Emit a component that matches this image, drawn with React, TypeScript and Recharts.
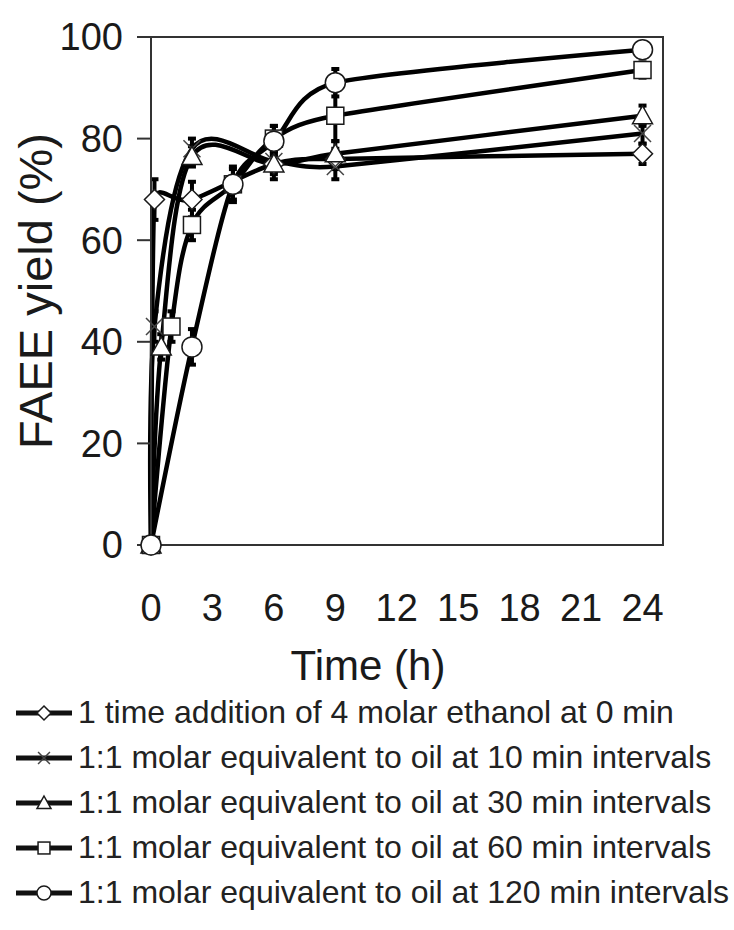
import React from 'react';
import { LineChart, Line, XAxis, YAxis, ErrorBar, ReferenceArea, Legend } from 'recharts';

// ---- data ----
const seriesNames = [
  '1 time addition of 4 molar ethanol at 0 min',
  '1:1 molar equivalent to oil at 10 min intervals',
  '1:1 molar equivalent to oil at 30 min intervals',
  '1:1 molar equivalent to oil at 60 min intervals',
  '1:1 molar equivalent to oil at 120 min intervals',
];

const timeOnce = [0, 0.17, 2, 6, 9, 24];
const yieldOnce = [0, 68, 68, 75, 76, 77];
const errOnce = [0, 4, 3.5, 2, 2, 2];

const time10 = [0, 0.17, 2, 6, 9, 24];
const yield10 = [0, 43, 78, 75.5, 74.5, 81];
const err10 = [0, 3, 2, 2, 2.5, 2];

const time30 = [0, 0.5, 2, 6, 9, 24];
const yield30 = [0, 39, 76.5, 75, 77, 84.5];
const err30 = [0, 2.5, 2, 3, 2.5, 2];

const time60 = [0, 1, 2, 4, 6, 9, 24];
const yield60 = [0, 43, 63, 71, 80, 84.5, 93.5];
const err60 = [0, 3, 3, 3, 2.5, 5, 1.5];

const time120 = [0, 2, 4, 6, 9, 24];
const yield120 = [0, 39, 71, 79.5, 91, 97.5];
const err120 = [0, 3.5, 3.5, 3, 2.7, 1.5];

const xTicks = [0, 3, 6, 9, 12, 15, 18, 21, 24];
const yTicks = [0, 20, 40, 60, 80, 100];

const build = (t: number[], y: number[], e: number[]) =>
  t.map((tv, i) => ({ t: tv, y: y[i], e: e[i] }));

const dataOnce = build(timeOnce, yieldOnce, errOnce);
const data10 = build(time10, yield10, err10);
const data30 = build(time30, yield30, err30);
const data60 = build(time60, yield60, err60);
const data120 = build(time120, yield120, err120);

// ---- spreadsheet-style smoothed curve: Catmull-Rom tangents (1/6) clamped to half the shorter neighbour segment ----
class SmoothCurve {
  _context: any;
  _pts: number[][] = [];
  _line: number = NaN;
  constructor(context: any) { this._context = context; }
  areaStart() { this._line = 0; }
  areaEnd() { this._line = NaN; }
  lineStart() { this._pts = []; }
  point(x: number, y: number) { this._pts.push([+x, +y]); }
  lineEnd() {
    const p = this._pts;
    const n = p.length;
    const ctx = this._context;
    if (!n) return;
    ctx.moveTo(p[0][0], p[0][1]);
    if (n === 1) return;
    const tg: number[][] = p.map((pt, i) => {
      if (i === 0 || i === n - 1) return [0, 0];
      let tx = (p[i + 1][0] - p[i - 1][0]) / 6;
      let ty = (p[i + 1][1] - p[i - 1][1]) / 6;
      const len = Math.hypot(tx, ty);
      const dPrev = Math.hypot(pt[0] - p[i - 1][0], pt[1] - p[i - 1][1]);
      const dNext = Math.hypot(p[i + 1][0] - pt[0], p[i + 1][1] - pt[1]);
      const maxLen = Math.min(dPrev, dNext) / 2;
      if (len > maxLen && len > 0) {
        tx *= maxLen / len;
        ty *= maxLen / len;
      }
      return [tx, ty];
    });
    for (let i = 0; i < n - 1; i++) {
      ctx.bezierCurveTo(
        p[i][0] + tg[i][0], p[i][1] + tg[i][1],
        p[i + 1][0] - tg[i + 1][0], p[i + 1][1] - tg[i + 1][1],
        p[i + 1][0], p[i + 1][1]
      );
    }
  }
}
const smoothFactory: any = (context: any) => new SmoothCurve(context);

// ---- markers ----
const MK = '#1a1a1a';
const drawMarker = (kind: number, cx: number, cy: number, s: number, key?: any) => {
  const sw = 1.5;
  switch (kind) {
    case 0:
      return <polygon key={key} points={`${cx},${cy - s} ${cx + s},${cy} ${cx},${cy + s} ${cx - s},${cy}`} fill="#fff" stroke={MK} strokeWidth={sw} />;
    case 1:
      return (
        <path key={key} d={`M${cx - s * 0.85},${cy - s * 0.85}L${cx + s * 0.85},${cy + s * 0.85}M${cx - s * 0.85},${cy + s * 0.85}L${cx + s * 0.85},${cy - s * 0.85}`} stroke="#444" strokeWidth={1.5} fill="none" />
      );
    case 2:
      return <polygon key={key} points={`${cx},${cy - s} ${cx + s},${cy + s * 0.8} ${cx - s},${cy + s * 0.8}`} fill="#fff" stroke={MK} strokeWidth={sw} />;
    case 3:
      return <rect key={key} x={cx - s * 0.85} y={cy - s * 0.85} width={s * 1.7} height={s * 1.7} fill="#fff" stroke={MK} strokeWidth={sw} />;
    default:
      return <circle key={key} cx={cx} cy={cy} r={s} fill="#fff" stroke={MK} strokeWidth={sw} />;
  }
};
const makeDot = (kind: number) => (p: any) => {
  if (p.cx == null || p.cy == null) return <g key={p.key} />;
  return drawMarker(kind, p.cx, p.cy, 10, p.key);
};

const FONT = '"Liberation Sans", Arial, sans-serif';
const TXT = '#1a1a1a';

const XTick = (p: any) => (
  <text x={p.x} y={p.y + 76} textAnchor="middle" fontFamily={FONT} fontSize={38} fill={TXT}>
    {p.payload.value}
  </text>
);

const renderLegend = () => (
  <div style={{ fontFamily: FONT, fontSize: 32, color: '#222' }}>
    {seriesNames.map((n, i) => (
      <div key={i} style={{ display: 'flex', alignItems: 'center', height: 45 }}>
        <svg width={60} height={30} style={{ marginLeft: 14, flex: 'none' }}>
          <line x1={2} x2={58} y1={15} y2={15} stroke="#111" strokeWidth={5} />
          {drawMarker(i, 30, 15, 7)}
        </svg>
        <span style={{ marginLeft: 4, whiteSpace: 'nowrap' }}>{n}</span>
      </div>
    ))}
  </div>
);

const seriesData = [dataOnce, data10, data30, data60, data120];

export default function App() {
  return (
    <div style={{ position: 'absolute', left: 0, top: 0, background: '#fff' }}>
      <LineChart width={734} height={930} margin={{ top: 37, right: 71, bottom: 285, left: 0 }}>
        <XAxis
          dataKey="t"
          type="number"
          domain={[0, 25]}
          ticks={xTicks}
          allowDuplicatedCategory={false}
          tickLine={false}
          tickSize={0}
          tickMargin={0}
          height={100}
          axisLine={{ stroke: '#333', strokeWidth: 2 }}
          tick={XTick}
          label={{
            content: () => (
              <text x={368} y={680} textAnchor="middle" fontFamily={FONT} fontSize={42} fill={TXT}>
                Time (h)
              </text>
            ),
          }}
        />
        <YAxis
          type="number"
          domain={[0, 100]}
          ticks={yTicks}
          width={151}
          tickSize={14}
          tickMargin={14}
          tickLine={{ stroke: '#333', strokeWidth: 2 }}
          axisLine={{ stroke: '#333', strokeWidth: 2 }}
          tick={{ fontFamily: FONT, fontSize: 38, fill: TXT }}
          label={{
            content: () => (
              <text
                x={35}
                y={291}
                transform="rotate(-90, 35, 291)"
                textAnchor="middle"
                dominantBaseline="central"
                fontFamily={FONT}
                fontSize={47}
                fill={TXT}
              >
                FAEE yield (%)
              </text>
            ),
          }}
        />
        <ReferenceArea x1={0} x2={25} y1={0} y2={100} fill="none" stroke="#333" strokeWidth={2} />
        {seriesData.map((d, i) => (
          <Line
            key={i}
            data={d}
            dataKey="y"
            name={seriesNames[i]}
            type={smoothFactory}
            stroke="#000"
            strokeWidth={4.5}
            dot={makeDot(i)}
            activeDot={false}
            isAnimationActive={false}
          >
            <ErrorBar dataKey="e" width={4} strokeWidth={4} stroke="#000" direction="y" />
          </Line>
        ))}
        <Legend
          layout="vertical"
          align="center"
          verticalAlign="middle"
          content={renderLegend}
          wrapperStyle={{ left: 0, top: 690, width: 734 }}
        />
      </LineChart>
    </div>
  );
}
